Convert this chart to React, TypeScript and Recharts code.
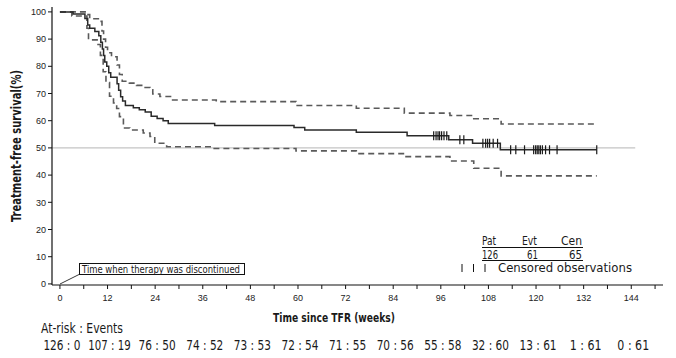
import React from 'react'
import { ComposedChart, Line, Scatter, XAxis, YAxis, ReferenceLine } from 'recharts'

// ─── data ─────────────────────────────────────────────────────────────────

const kmWeeks = [0, 3.3, 6.3, 7.0, 7.5, 8.8, 9.8, 10.3, 10.7, 11.0, 11.3, 11.8, 12.3, 12.8, 14.4, 14.8, 15.3, 15.8, 16.5, 18.5, 20, 21.5, 23, 24.5, 26, 27.3, 39, 59, 61.7, 74.7, 87.5, 98, 104, 111, 135.3]
const kmSurv  = [100, 99.2, 97.6, 95.2, 94.0, 92.8, 91.2, 88.8, 86.4, 84, 81.6, 80.0, 77.6, 76.0, 73.6, 71.2, 68.8, 67.2, 65.6, 64.8, 64.0, 63.2, 61.6, 60.8, 60.0, 59.0, 58.2, 57.5, 56.6, 55.8, 54.5, 53.0, 51.7, 49.3, 49.3]

const upperWeeks = [0, 6.8, 7.5, 10.2, 10.6, 11.0, 11.5, 12.0, 13.0, 14.4, 15.0, 15.7, 17.5, 19.3, 21, 22.7, 23.4, 25.2, 28.1, 39.4, 59.5, 74.7, 86.8, 98.3, 104.3, 111.2, 135.3]
const upperSurv  = [100, 99, 97.5, 96.5, 93, 90, 87, 85, 83.5, 80.5, 77, 74.5, 73.8, 73.0, 72.2, 71.4, 69.8, 68.9, 67.6, 67.0, 65.6, 64.6, 62.8, 61.9, 60.7, 58.8, 58.8]

const lowerWeeks = [0, 3.0, 6.8, 7.2, 9.6, 10.2, 10.9, 11.6, 12.5, 13.5, 14.3, 15.0, 16.0, 17.6, 21, 22.7, 23.9, 26.9, 38.6, 59.5, 74.7, 87, 98.3, 104.3, 111.2, 135.3]
const lowerSurv  = [100, 98.5, 94, 89.7, 88, 84, 78, 74, 69, 66.5, 64.5, 61.5, 57.3, 56.6, 55.5, 54.2, 51.7, 50.4, 49.8, 48.9, 47.9, 46.8, 45.2, 42.5, 39.7, 39.7]

const censorWeeks = [94.2, 94.8, 95.3, 95.7, 96.2, 96.8, 97.5, 100.8, 101.8, 106.6, 107.3, 107.8, 108.3, 109.2, 110.3, 113.6, 114.9, 117.1, 119.4, 119.9, 120.3, 120.7, 121.1, 121.6, 122.4, 123.4, 125.3, 135.3]

const riskWeeks  = [0, 12, 24, 36, 48, 60, 72, 84, 96, 108, 120, 132, 144]
const riskLabels = ['126 : 0', '107 : 19', '76 : 50', '74 : 52', '73 : 53', '72 : 54', '71 : 55', '70 : 56', '55 : 58', '32 : 60', '13 : 61', '1 : 61', '0 : 61']

const xTicks = [0, 6, 12, 18, 24, 30, 36, 42, 48, 54, 60, 66, 72, 78, 84, 90, 96, 102, 108, 114, 120, 126, 132, 138, 144, 150]
const yTicks = [0, 10, 20, 30, 40, 50, 60, 70, 80, 90, 100]

// ─── helpers ──────────────────────────────────────────────────────────────

const NARROW = "'Liberation Sans Narrow', 'Arial Narrow', 'DejaVu Sans Condensed', sans-serif"
const SANS   = "'Liberation Sans', Arial, sans-serif"

const toPoints = (ts: number[], vs: number[]) => ts.map((t, i) => ({ t, v: vs[i] }))

// level of the KM step function at week t
function kmAt(t: number): number {
  let v = kmSurv[0]
  for (let i = 0; i < kmWeeks.length; i++) if (kmWeeks[i] <= t) v = kmSurv[i]
  return v
}

const kmData     = toPoints(kmWeeks, kmSurv)
const upperData  = toPoints(upperWeeks, upperSurv)
const lowerData  = toPoints(lowerWeeks, lowerSurv)
const censorData = censorWeeks.map(t => ({ t, v: kmAt(t) }))

const CensorMark = (p: any) => (
  <line x1={p.cx} x2={p.cx} y1={p.cy - 4.5} y2={p.cy + 4.5} stroke="#1a1a1a" strokeWidth={1.2} />
)

// week label, plus the at-risk : events count underneath
const WeekTick = (p: any) => {
  const w = p.payload.value
  const i = riskWeeks.indexOf(w)
  if (i < 0) return null
  const lbl = riskLabels[i]
  return (
    <g>
      <text x={p.x} y={p.y} dy="0.71em" textAnchor="middle" fontFamily={SANS} fontSize={9} fill="#222">{w}</text>
      <text x={p.x + 2} y={p.y + 55} textAnchor="middle" fontFamily={NARROW} fontSize={13.5} fill="#1a1a1a"
        textLength={lbl.length * 5.3} lengthAdjust="spacingAndGlyphs">{lbl}</text>
    </g>
  )
}

// ─── component ────────────────────────────────────────────────────────────

export default function App() {
  return (
    <div style={{ position: 'relative', width: 676, height: 358, background: '#fff' }}>
      <style>{'body{margin:0}'}</style>
      <ComposedChart width={676} height={358} margin={{ top: 7, right: 13, left: 12, bottom: 43 }}>
        <XAxis
          dataKey="t"
          type="number"
          domain={[-2, 152]}
          ticks={xTicks}
          interval={0}
          tickSize={4}
          tickMargin={6}
          height={30}
          axisLine={{ stroke: '#111', strokeWidth: 1.2 }}
          tickLine={{ stroke: '#111' }}
          tick={<WeekTick />}
        />
        <YAxis
          dataKey="v"
          type="number"
          domain={[-0.4, 101.8]}
          ticks={yTicks}
          interval={0}
          width={40}
          tickSize={4}
          tickMargin={2}
          axisLine={{ stroke: '#111', strokeWidth: 1.2 }}
          tickLine={{ stroke: '#111' }}
          tick={{ fill: '#222', fontSize: 9, fontFamily: SANS }}
        />
        <ReferenceLine segment={[{ x: -2, y: 50 }, { x: 145, y: 50 }]} stroke="#c4c4c4" strokeWidth={1.2} ifOverflow="visible" />
        <Line data={upperData} dataKey="v" type="stepAfter" stroke="#5a5a5a" strokeWidth={1.6} strokeDasharray="6 4" dot={false} isAnimationActive={false} />
        <Line data={lowerData} dataKey="v" type="stepAfter" stroke="#5a5a5a" strokeWidth={1.6} strokeDasharray="6 4" dot={false} isAnimationActive={false} />
        <Line data={kmData} dataKey="v" type="stepAfter" stroke="#2a2a2a" strokeWidth={1.5} dot={false} isAnimationActive={false} />
        <Scatter data={censorData} dataKey="v" shape={CensorMark} isAnimationActive={false} />
      </ComposedChart>

      <svg width={676} height={358} style={{ position: 'absolute', left: 0, top: 0, pointerEvents: 'none' }}>
        <text transform="translate(21,146) rotate(-90)" textAnchor="middle" fontFamily={NARROW} fontWeight="bold" fontSize={14} fill="#1a1a1a" textLength={152} lengthAdjust="spacingAndGlyphs">
          Treatment-free survival(%)
        </text>
        <text x={334} y={322} textAnchor="middle" fontFamily={NARROW} fontWeight="bold" fontSize={12} fill="#1a1a1a" textLength={122} lengthAdjust="spacingAndGlyphs">
          Time since TFR (weeks)
        </text>
        <text x={41} y={333} fontFamily={NARROW} fontSize={13.5} fill="#1a1a1a" textLength={82} lengthAdjust="spacingAndGlyphs">
          At-risk : Events
        </text>

        {/* annotation */}
        <line x1={60} y1={284} x2={80} y2={274} stroke="#222" strokeWidth={0.9} />
        <rect x={79.5} y={263.5} width={165} height={11} fill="#fff" stroke="#111" strokeWidth={1} />
        <text x={82} y={272.5} fontFamily={NARROW} fontSize={11} fill="#1a1a1a" textLength={158} lengthAdjust="spacingAndGlyphs">
          Time when therapy was discontinued
        </text>

        {/* summary box */}
        <g fontFamily={NARROW} fontSize={12.5} fill="#1a1a1a">
          <text x={482} y={245} textLength={14} lengthAdjust="spacingAndGlyphs">Pat</text>
          <text x={522} y={245} textLength={15} lengthAdjust="spacingAndGlyphs">Evt</text>
          <text x={561} y={245} textLength={21} lengthAdjust="spacingAndGlyphs">Cen</text>
          <line x1={482} x2={583} y1={247.5} y2={247.5} stroke="#111" strokeWidth={1} />
          <text x={482} y={258.5} textLength={16} lengthAdjust="spacingAndGlyphs">126</text>
          <text x={527} y={258.5} textLength={11} lengthAdjust="spacingAndGlyphs">61</text>
          <text x={569} y={258.5} textLength={13} lengthAdjust="spacingAndGlyphs">65</text>
          <line x1={482} x2={583} y1={260.5} y2={260.5} stroke="#111" strokeWidth={1} />
          <line x1={462} x2={462} y1={264} y2={272} stroke="#111" strokeWidth={1} />
          <line x1={473.5} x2={473.5} y1={264} y2={272} stroke="#111" strokeWidth={1} />
          <line x1={485} x2={485} y1={264} y2={272} stroke="#111" strokeWidth={1} />
          <text x={498} y={272} fontSize={13} textLength={134} lengthAdjust="spacingAndGlyphs">Censored observations</text>
        </g>
      </svg>
    </div>
  )
}
